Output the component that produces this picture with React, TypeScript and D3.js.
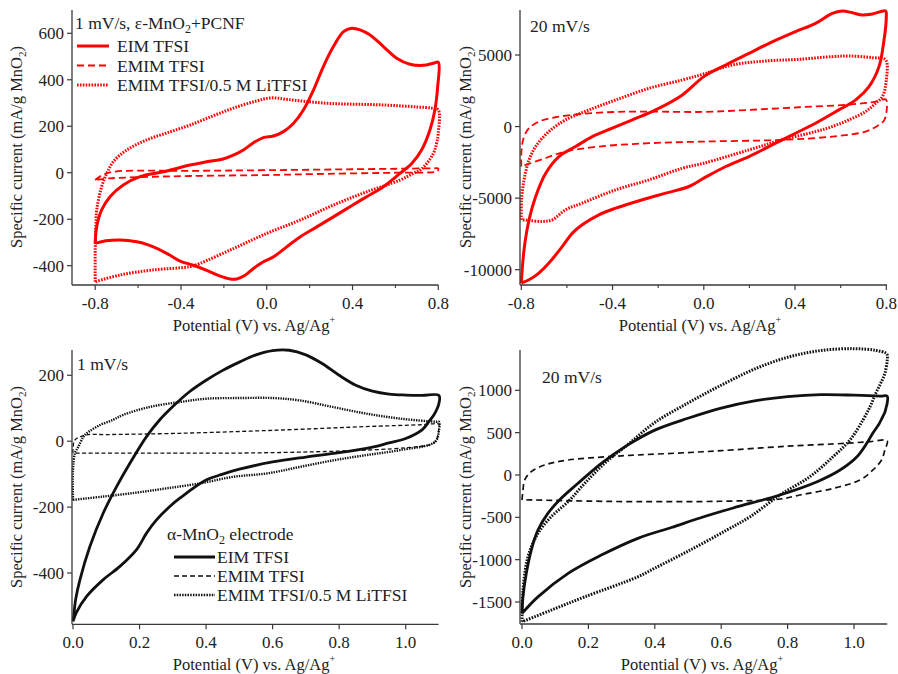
import React from "react";
import * as d3 from "d3";

type Pt = [number, number];

const legendLabels = ["EIM TFSI", "EMIM TFSI", "EMIM TFSI/0.5 M LiTFSI"];
const xTicksTop = [-0.8, -0.4, 0.0, 0.4, 0.8];
const xMinorTop = [-0.6, -0.2, 0.2, 0.6];
const xTicksBottom = [0.0, 0.2, 0.4, 0.6, 0.8, 1.0];
const yTicksP1 = [-400, -200, 0, 200, 400, 600];
const yTicksP2 = [-10000, -5000, 0, 5000];
const yTicksP3 = [-400, -200, 0, 200];
const yTicksP4 = [-1500, -1000, -500, 0, 500, 1000];

// Panel 1: 1 mV/s, ε-MnO2+PCNF
const p1Solid: Pt[] = [
  [-0.8, -304], [-0.793, -232], [-0.77, -160], [-0.731, -103], [-0.669, -53], [-0.591, -17], [-0.482, 4], [-0.358, 33],
  [-0.28, 47], [-0.2, 60], [-0.155, 76], [-0.109, 98], [-0.062, 129], [-0.016, 151], [0.031, 158], [0.078, 177],
  [0.124, 212], [0.171, 270], [0.218, 356], [0.264, 457], [0.311, 543], [0.358, 607], [0.396, 622], [0.435, 615],
  [0.482, 593], [0.544, 543], [0.606, 493], [0.668, 467], [0.73, 462], [0.777, 471], [0.8, 475],
  [0.797, 370], [0.784, 270], [0.761, 184], [0.722, 98], [0.676, 40], [0.621, -3], [0.544, -60], [0.466, -103],
  [0.388, -146], [0.311, -190], [0.233, -233], [0.155, -276], [0.093, -319], [0.031, -362], [-0.016, -383],
  [-0.062, -412], [-0.101, -441], [-0.14, -457], [-0.171, -457], [-0.217, -445], [-0.28, -420], [-0.342, -398],
  [-0.404, -380], [-0.46, -350], [-0.513, -325], [-0.56, -308], [-0.606, -297], [-0.684, -289], [-0.75, -293], [-0.8, -304],
];
const p1Dashed: Pt[] = [
  [-0.8, -31], [-0.77, -12], [-0.716, 4], [-0.358, 8], [0, 11], [0.4, 15], [0.78, 19], [0.8, 19],
  [0.8, 14], [0.795, 5], [0.77, 2], [0.6, 0], [0.2, -6], [0, -10], [-0.358, -14], [-0.6, -19], [-0.731, -24], [-0.8, -31],
];
const p1Dotted: Pt[] = [
  [-0.8, -469], [-0.8, -330], [-0.797, -230], [-0.793, -160], [-0.77, -60], [-0.746, -3], [-0.716, 47], [-0.653, 98],
  [-0.56, 141], [-0.451, 176], [-0.358, 205], [-0.25, 245], [-0.15, 280], [-0.05, 308], [0.02, 322], [0.1, 315],
  [0.2, 305], [0.3, 298], [0.4, 295], [0.5, 293], [0.6, 289], [0.7, 283], [0.77, 278], [0.8, 270],
  [0.8, 170], [0.792, 126], [0.777, 83], [0.746, 40], [0.715, 11], [0.683, -3], [0.621, -32], [0.466, -82],
  [0.311, -139], [0.155, -204], [0, -261], [-0.155, -326], [-0.311, -390], [-0.358, -404], [-0.529, -418],
  [-0.684, -440], [-0.8, -469],
];

// Panel 2: 20 mV/s, ε-MnO2+PCNF
const p2Solid: Pt[] = [
  [-0.8, -10932], [-0.788, -8606], [-0.766, -6513], [-0.737, -4885], [-0.693, -3256], [-0.635, -2093], [-0.562, -1396],
  [-0.489, -698], [-0.401, -116], [-0.313, 465], [-0.211, 1163], [-0.094, 2210], [0.0, 3489], [0.096, 4303],
  [0.198, 5117], [0.286, 5815], [0.402, 6629], [0.49, 7211], [0.563, 7908], [0.607, 8071], [0.651, 7955],
  [0.695, 7792], [0.739, 7862], [0.797, 8071],
  [0.8, 7676], [0.79, 6048], [0.768, 4187], [0.724, 2791], [0.666, 1861], [0.592, 1163], [0.49, 233], [0.402, -465],
  [0.315, -1163], [0.198, -2093], [0.096, -2791], [0.0, -3605], [-0.065, -4187], [-0.167, -4652], [-0.27, -5117],
  [-0.386, -5699], [-0.46, -6164], [-0.533, -6862], [-0.576, -7443], [-0.62, -8374], [-0.679, -9537],
  [-0.723, -10234], [-0.766, -10700], [-0.8, -10932],
];
const p2Dashed: Pt[] = [
  [-0.8, -2791], [-0.799, -1628], [-0.788, -698], [-0.766, -116], [-0.723, 349], [-0.65, 651], [-0.533, 884],
  [-0.386, 1023], [-0.24, 1047], [0.0, 1023], [0.198, 1163], [0.417, 1349], [0.636, 1535], [0.753, 1745],
  [0.79, 1907], [0.8, 1861], [0.8, 930], [0.79, 419], [0.768, 116], [0.709, -349], [0.563, -698], [0.344, -930],
  [0.0, -1047], [-0.24, -1163], [-0.46, -1396], [-0.606, -1745], [-0.708, -2280], [-0.8, -2791],
];
const p2Dotted: Pt[] = [
  [-0.8, -6513], [-0.799, -5117], [-0.788, -3722], [-0.766, -2326], [-0.737, -1396], [-0.679, -349], [-0.606, 465],
  [-0.503, 1163], [-0.386, 1861], [-0.24, 2675], [-0.094, 3256], [0.0, 3675], [0.125, 4303], [0.271, 4582],
  [0.417, 4699], [0.563, 4885], [0.636, 4931], [0.739, 4815], [0.797, 4652],
  [0.8, 3256], [0.783, 2093], [0.753, 1628], [0.709, 1047], [0.636, 465], [0.563, 0], [0.49, -349], [0.344, -930],
  [0.198, -1628], [0.0, -2559], [-0.094, -2908], [-0.24, -3722], [-0.386, -4419], [-0.533, -5350], [-0.606, -5815],
  [-0.664, -6513], [-0.708, -6629], [-0.766, -6559], [-0.8, -6513],
];

// Panel 3: 1 mV/s, α-MnO2
const p3Solid: Pt[] = [
  [0, -547], [0.001, -541], [0.008, -480], [0.021, -420], [0.051, -319], [0.091, -218], [0.131, -138], [0.171, -67],
  [0.221, 14], [0.261, 65], [0.3, 105], [0.35, 150], [0.4, 185], [0.45, 215], [0.5, 240], [0.55, 262], [0.6, 275],
  [0.65, 276], [0.7, 262], [0.75, 235], [0.8, 200], [0.85, 170], [0.9, 152], [0.95, 143], [1.0, 140], [1.05, 139], [1.1, 139],
  [1.1, 115], [1.095, 100], [1.085, 80], [1.07, 60], [1.05, 35], [1.0, 8], [0.95, -5], [0.9, -18], [0.8, -35],
  [0.7, -48], [0.6, -63], [0.5, -85], [0.45, -100], [0.4, -118], [0.321, -173], [0.291, -198], [0.251, -239],
  [0.221, -279], [0.191, -329], [0.141, -380], [0.091, -420], [0.041, -471], [0.01, -520], [0, -547],
];
const p3Dashed: Pt[] = [
  [0, -36], [0.0, -21], [0.006, 4], [0.041, 19], [0.1, 20], [0.321, 24], [0.6, 33], [0.9, 45], [1.05, 50], [1.1, 52],
  [1.1, 45], [1.097, 20], [1.09, 0], [1.075, -10], [1.0, -20], [0.8, -30], [0.5, -36], [0.321, -36], [0, -36],
];
const p3Dotted: Pt[] = [
  [0, -178], [0, -87], [0.006, -36], [0.016, -17], [0.031, 13], [0.041, 24], [0.081, 49], [0.121, 65], [0.151, 80],
  [0.231, 104], [0.322, 119], [0.402, 129], [0.502, 131], [0.602, 131], [0.68, 124], [0.78, 104], [0.88, 84],
  [0.98, 69], [1.09, 59], [1.1, 59],
  [1.1, 33], [1.088, -2], [0.983, -27], [0.883, -42], [0.783, -58], [0.682, -78], [0.582, -98], [0.482, -108],
  [0.382, -128], [0.282, -143], [0.191, -156], [0.091, -168], [0, -178],
];

// Panel 4: 20 mV/s, α-MnO2
const p4Solid: Pt[] = [
  [0, -1635], [0.003, -1439], [0.013, -1162], [0.028, -887], [0.048, -650], [0.078, -453], [0.118, -276],
  [0.169, -98], [0.239, 138], [0.319, 355], [0.4, 530], [0.5, 670], [0.6, 790], [0.7, 875], [0.8, 925], [0.9, 948],
  [1.0, 942], [1.08, 932], [1.1, 930],
  [1.1, 850], [1.097, 800], [1.093, 740], [1.088, 700], [1.083, 660], [1.075, 600], [1.057, 496], [1.039, 378],
  [1.009, 216], [0.958, 59], [0.889, -79], [0.777, -236], [0.636, -390], [0.536, -508], [0.45, -620], [0.349, -748],
  [0.239, -946], [0.139, -1162], [0.048, -1439], [0, -1635],
];
const p4Dashed: Pt[] = [
  [0, -296], [0.003, -180], [0.008, -59], [0.028, 39], [0.068, 118], [0.139, 177], [0.259, 216], [0.349, 236],
  [0.5, 265], [0.6, 287], [0.8, 340], [0.98, 375], [1.05, 395], [1.1, 405],
  [1.093, 296], [1.083, 177], [1.057, 59], [1.018, -59], [0.938, -158], [0.837, -236], [0.777, -284], [0.6, -310],
  [0.349, -315], [0.15, -305], [0.03, -295], [0, -296],
];
const p4Dotted: Pt[] = [
  [0, -1734], [0.003, -1359], [0.018, -966], [0.048, -689], [0.088, -493], [0.139, -315], [0.189, -98],
  [0.249, 138], [0.319, 360], [0.4, 620], [0.5, 850], [0.6, 1060], [0.7, 1250], [0.8, 1390], [0.9, 1470],
  [1.0, 1492], [1.065, 1472], [1.095, 1441], [1.1, 1420],
  [1.1, 1354], [1.093, 1200], [1.08, 1080], [1.065, 960], [1.05, 820], [1.027, 650], [0.988, 414], [0.937, 216],
  [0.867, -20], [0.777, -236], [0.687, -493], [0.617, -650], [0.5, -900], [0.4, -1100], [0.349, -1202],
  [0.189, -1439], [0.088, -1596], [0, -1734],
];

const FONT = "'Liberation Serif','Times New Roman',Times,serif";
const AXIS = "#3a3a3a";
const TICK_FS = 17;
const TITLE_FS = 16.5;
const LEG_FS = 17.5;

interface Series { data: Pt[]; dash: string; width: number; }
interface PanelCfg {
  xDomain: [number, number]; xRange: [number, number];
  yDomain: [number, number]; yRange: [number, number];
  axisX: number; axisY: number; top: number; right: number;
  xTicks: number[]; xMinor: number[]; yTicks: number[];
  color: string; series: Series[];
  xTitleX: number; yTitleX: number; yTitleY: number;
}

function Panel({ c }: { c: PanelCfg }) {
  const xs = d3.scaleLinear().domain(c.xDomain).range(c.xRange);
  const ys = d3.scaleLinear().domain(c.yDomain).range(c.yRange);
  const line = d3.line<Pt>().x((d) => xs(d[0])).y((d) => ys(d[1])).curve(d3.curveCatmullRom.alpha(0.5));
  return (
    <g>
      {c.series.map((s, i) => (
        <path key={i} d={line(s.data) || ""} fill="none" stroke={c.color} strokeWidth={s.width}
          strokeDasharray={s.dash} strokeLinejoin="round" />
      ))}
      <line x1={c.axisX} x2={c.axisX} y1={c.top} y2={c.axisY} stroke={AXIS} strokeWidth={1.3} />
      <line x1={c.axisX} x2={c.right} y1={c.axisY} y2={c.axisY} stroke={AXIS} strokeWidth={1.3} />
      {c.xTicks.map((t) => (
        <g key={"x" + t}>
          <line x1={xs(t)} x2={xs(t)} y1={c.axisY} y2={c.axisY + 5} stroke={AXIS} strokeWidth={1.2} />
          <text x={xs(t)} y={c.axisY + 24} textAnchor="middle" fontSize={TICK_FS} fontFamily={FONT} fill="#222">
            {t.toFixed(1)}
          </text>
        </g>
      ))}
      {c.xMinor.map((t) => (
        <line key={"m" + t} x1={xs(t)} x2={xs(t)} y1={c.axisY} y2={c.axisY + 3} stroke={AXIS} strokeWidth={1.1} />
      ))}
      {c.yTicks.map((t) => (
        <g key={"y" + t}>
          <line x1={c.axisX - 5} x2={c.axisX} y1={ys(t)} y2={ys(t)} stroke={AXIS} strokeWidth={1.2} />
          <text x={c.axisX - 8} y={ys(t)} dy="0.35em" textAnchor="end" fontSize={TICK_FS} fontFamily={FONT} fill="#222">
            {String(t)}
          </text>
        </g>
      ))}
      <text x={c.xTitleX} y={c.axisY + 45.5} textAnchor="middle" fontSize={TITLE_FS} fontFamily={FONT} fill="#222">
        Potential (V) vs. Ag/Ag<tspan dy="-8" fontSize={10}>+</tspan>
      </text>
      <text transform={`translate(${c.yTitleX},${c.yTitleY}) rotate(-90)`} textAnchor="middle" fontSize={TITLE_FS}
        fontFamily={FONT} fill="#222">
        Specific current (mA/g MnO<tspan dy="4" fontSize={11}>2</tspan><tspan dy="-4">)</tspan>
      </text>
    </g>
  );
}

function Legend({ x, y, lineW, textX, rowGap, color, styles }:
  { x: number; y: number; lineW: number; textX: number; rowGap: number; color: string; styles: Series[] }) {
  return (
    <g>
      {legendLabels.map((lab, i) => (
        <g key={lab}>
          <line x1={x} x2={x + lineW} y1={y + i * rowGap} y2={y + i * rowGap} stroke={color}
            strokeWidth={styles[i].width} strokeDasharray={styles[i].dash} />
          <text x={textX} y={y + i * rowGap + 6} fontSize={LEG_FS} fontFamily={FONT} fill="#222">{lab}</text>
        </g>
      ))}
    </g>
  );
}

export default function App() {
  const RED = "#ff0000";
  const BLK = "#111";
  const redStyles: Series[] = [
    { data: p1Solid, dash: "", width: 3 },
    { data: p1Dashed, dash: "7,4", width: 1.8 },
    { data: p1Dotted, dash: "1.6,1.3", width: 3 },
  ];
  const p1: PanelCfg = {
    xDomain: [-0.8, 0.8], xRange: [95.2, 438.3], yDomain: [-400, 600], yRange: [265.7, 33.3],
    axisX: 72, axisY: 285, top: 10, right: 438.3, xTicks: xTicksTop, xMinor: xMinorTop, yTicks: yTicksP1,
    color: RED, series: redStyles, xTitleX: 254, yTitleX: 22, yTitleY: 147,
  };
  const p2: PanelCfg = {
    xDomain: [-0.8, 0.8], xRange: [521.3, 886.3], yDomain: [-10000, 5000], yRange: [269.7, 55],
    axisX: 520, axisY: 285, top: 10, right: 887, xTicks: xTicksTop, xMinor: xMinorTop, yTicks: yTicksP2,
    color: RED,
    series: [
      { data: p2Solid, dash: "", width: 3 },
      { data: p2Dashed, dash: "7,4", width: 1.8 },
      { data: p2Dotted, dash: "1.6,1.3", width: 3 },
    ],
    xTitleX: 700, yTitleX: 471, yTitleY: 147,
  };
  const p3: PanelCfg = {
    xDomain: [0, 1], xRange: [73, 405.7], yDomain: [-400, 200], yRange: [573, 375.3],
    axisX: 72, axisY: 624.3, top: 350, right: 438.6, xTicks: xTicksBottom, xMinor: [], yTicks: yTicksP3,
    color: BLK,
    series: [
      { data: p3Solid, dash: "", width: 2.8 },
      { data: p3Dashed, dash: "4,2.5", width: 1.3 },
      { data: p3Dotted, dash: "1.4,1.1", width: 2.4 },
    ],
    xTitleX: 254, yTitleX: 22, yTitleY: 487,
  };
  const p4: PanelCfg = {
    xDomain: [0, 1], xRange: [522, 854], yDomain: [-1500, 1000], yRange: [602, 390.3],
    axisX: 520, axisY: 624, top: 350, right: 887.2, xTicks: xTicksBottom, xMinor: [], yTicks: yTicksP4,
    color: BLK,
    series: [
      { data: p4Solid, dash: "", width: 2.8 },
      { data: p4Dashed, dash: "6,4", width: 1.7 },
      { data: p4Dotted, dash: "1.6,1.3", width: 3 },
    ],
    xTitleX: 702, yTitleX: 471, yTitleY: 487,
  };
  const blackStyles: Series[] = [
    { data: [], dash: "", width: 3 },
    { data: [], dash: "5,3", width: 1.5 },
    { data: [], dash: "1.5,1.2", width: 2.6 },
  ];
  return (
    <svg width={898} height={674} viewBox="0 0 898 674"
      style={{ position: "absolute", left: 0, top: 0, background: "#fff" }}>
      <rect x={0} y={0} width={898} height={674} fill="#fff" />
      <Panel c={p1} />
      <Panel c={p2} />
      <Panel c={p3} />
      <Panel c={p4} />
      <text x={75} y={29} fontSize={LEG_FS} fontFamily={FONT} fill="#222">
        1 mV/s, ε-MnO<tspan dy="4" fontSize={12}>2</tspan><tspan dy="-4">+PCNF</tspan>
      </text>
      <Legend x={77} y={46} lineW={32} textX={117} rowGap={19.5} color={RED} styles={redStyles} />
      <text x={530} y={32} fontSize={LEG_FS} fontFamily={FONT} fill="#222">20 mV/s</text>
      <text x={77} y={370} fontSize={LEG_FS} fontFamily={FONT} fill="#222">1 mV/s</text>
      <text x={167} y={540} fontSize={LEG_FS} fontFamily={FONT} fill="#222">
        α-MnO<tspan dy="4" fontSize={12}>2</tspan><tspan dy="-4"> electrode</tspan>
      </text>
      <Legend x={174} y={557} lineW={41} textX={217} rowGap={19} color={BLK} styles={blackStyles} />
      <text x={542} y={383} fontSize={LEG_FS} fontFamily={FONT} fill="#222">20 mV/s</text>
    </svg>
  );
}
